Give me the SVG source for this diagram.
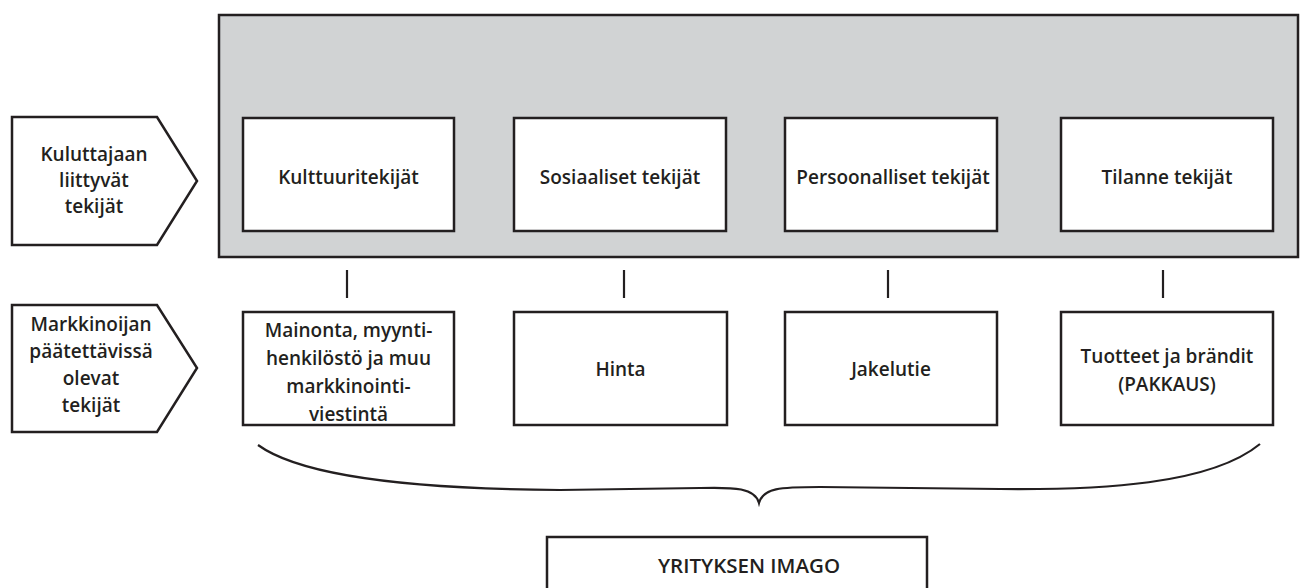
<svg xmlns="http://www.w3.org/2000/svg" width="1304" height="588" viewBox="0 0 1304 588">
<style>
.box{fill:#ffffff;stroke:#231f20;stroke-width:2.5}
.panel{fill:#d1d3d4;stroke:#231f20;stroke-width:2.5}
.t{font-family:"Open Sans","Liberation Sans",sans-serif;font-weight:600;font-size:19px;fill:#231f20;text-anchor:middle}
.ln{stroke:#231f20;stroke-width:2.2;fill:none}
</style>
<rect width="1304" height="588" fill="#ffffff"/>
<g id="panel"><rect class="panel" x="219" y="15" width="1079" height="242"/></g>
<g id="label-kuluttaja">
<polygon class="box" points="12,117 157,117 197,181 157,245 12,245"/>
<text class="t" x="94" y="161">Kuluttajaan</text>
<text class="t" x="94" y="187">liittyvät</text>
<text class="t" x="94" y="213">tekijät</text>
</g>
<g id="label-markkinoija">
<polygon class="box" points="12,305 157,305 197,368 157,432 12,432"/>
<text class="t" x="91" y="331">Markkinoijan</text>
<text class="t" x="91" y="358">päätettävissä</text>
<text class="t" x="91" y="385">olevat</text>
<text class="t" x="91" y="412">tekijät</text>
</g>
<g id="kulttuuri"><rect class="box" x="243" y="118" width="211" height="113"/><text class="t" x="348.5" y="184">Kulttuuritekijät</text></g>
<g id="sosiaaliset"><rect class="box" x="514" y="118" width="212" height="113"/><text class="t" x="620" y="184">Sosiaaliset tekijät</text></g>
<g id="persoonalliset"><rect class="box" x="785" y="118" width="212" height="113"/><text class="t" x="893" y="184">Persoonalliset tekijät</text></g>
<g id="tilanne"><rect class="box" x="1061" y="118" width="212" height="113"/><text class="t" x="1167" y="184">Tilanne tekijät</text></g>
<g id="mainonta"><rect class="box" x="243" y="312" width="211" height="113"/>
<text class="t" x="348.5" y="337">Mainonta, myynti-</text>
<text class="t" x="348.5" y="365">henkilöstö ja muu</text>
<text class="t" x="348.5" y="393">markkinointi-</text>
<text class="t" x="348.5" y="421">viestintä</text>
</g>
<g id="hinta"><rect class="box" x="514" y="312" width="213" height="113"/><text class="t" x="620.5" y="376">Hinta</text></g>
<g id="jakelutie"><rect class="box" x="785" y="312" width="212" height="113"/><text class="t" x="891" y="376">Jakelutie</text></g>
<g id="tuotteet"><rect class="box" x="1061" y="312" width="212" height="113"/>
<text class="t" x="1167" y="363">Tuotteet ja brändit</text>
<text class="t" x="1167" y="391">(PAKKAUS)</text>
</g>
<g id="imago"><rect class="box" x="547" y="537" width="380" height="70"/><text class="t" x="749" y="573" style="font-size:20.5px">YRITYKSEN IMAGO</text></g>
<g id="connectors">
<line class="ln" x1="347" y1="270" x2="347" y2="298"/>
<line class="ln" x1="624" y1="270" x2="624" y2="298"/>
<line class="ln" x1="888" y1="270" x2="888" y2="298"/>
<line class="ln" x1="1163" y1="270" x2="1163" y2="298"/>
<path class="ln" d="M258,445 C298,474 400,489 560,490 L700,488 C735,487 755,488 759,503 C763,488 780,487 820,487 L1000,489 C1100,490 1210,485 1260,444"/>
</g>
</svg>
